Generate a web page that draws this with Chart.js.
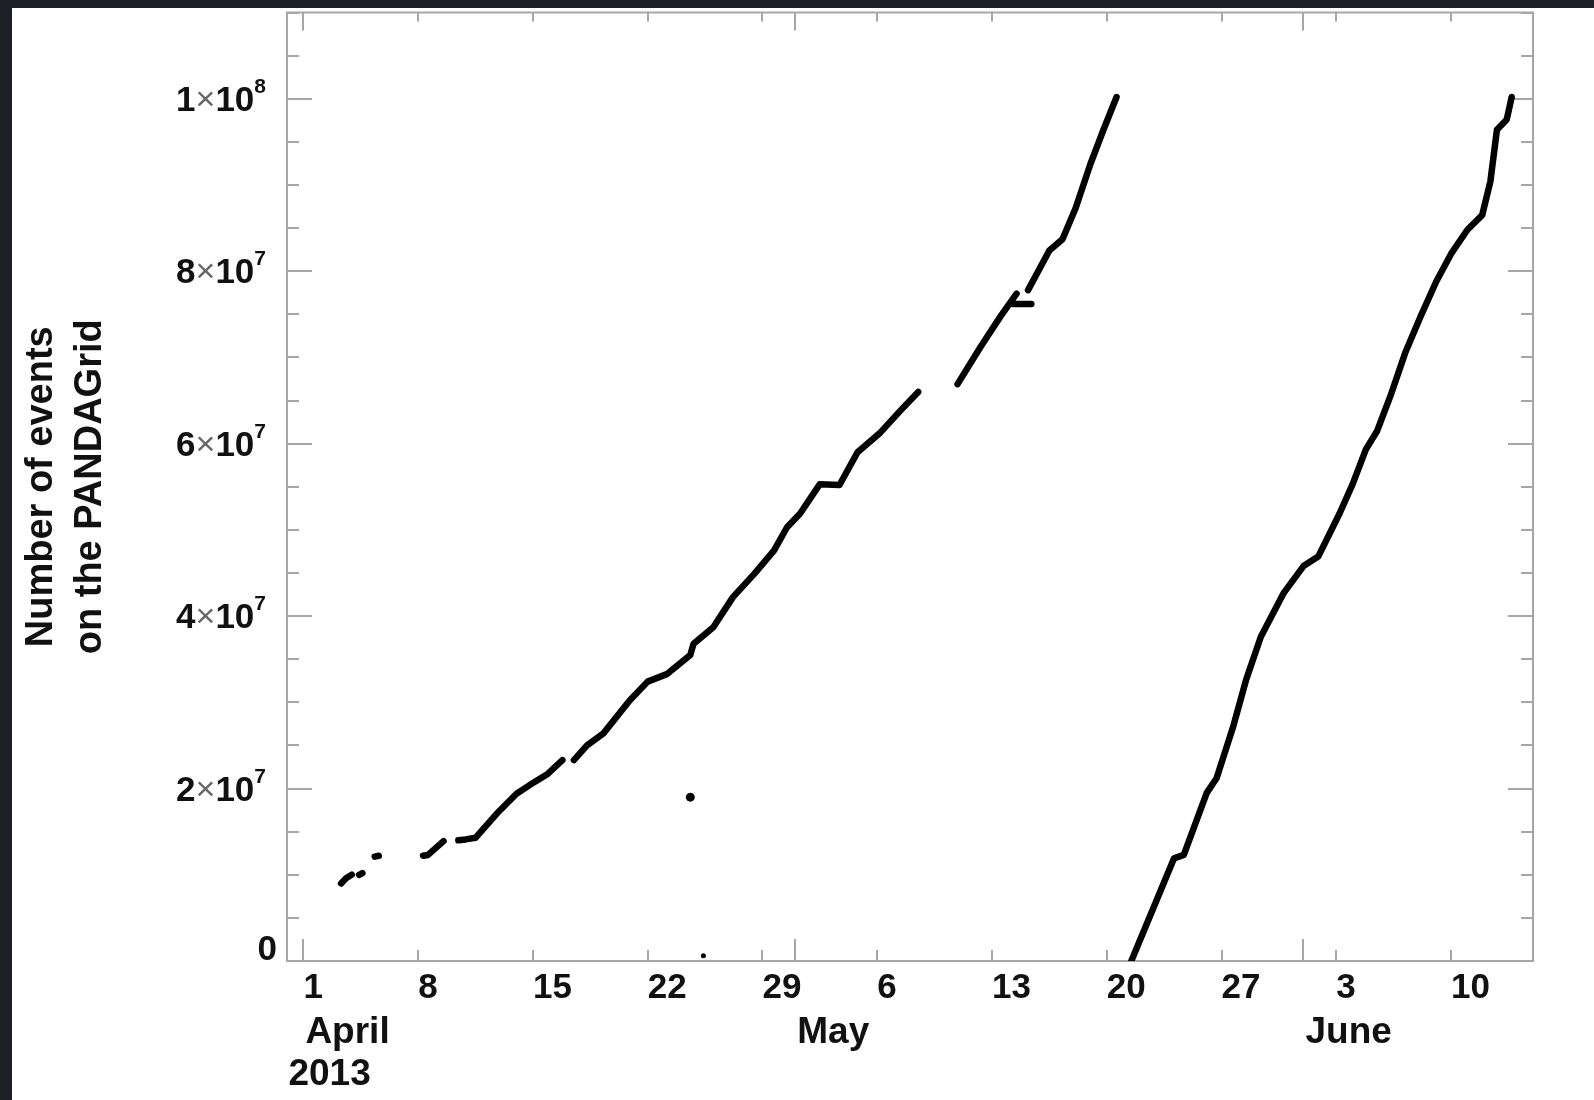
<!DOCTYPE html>
<html>
<head>
<meta charset="utf-8">
<title>Number of events on the PANDAGrid</title>
<script src="https://cdn.jsdelivr.net/npm/chart.js@4.4.1/dist/chart.umd.min.js"></script>
<style>
  html, body { margin: 0; padding: 0; background: #1d2126; overflow: hidden; }
  #panel { position: absolute; left: 12px; top: 8px; width: 1582px; height: 1092px; background: #fff; }
  #chart { display: block; }
</style>
</head>
<body>
<div id="panel"><canvas id="chart" width="1582" height="1092"></canvas></div>
<script>
// x values are days since 1 April 2013 (day 0 = April 1)
// first production run, null marks a break in the trace
const days1 = [2.3, 2.6, 2.95, 3.2, 3.4, 3.6, 4.0, 4.35, 4.6, 6.0, 7.3, 7.6, 8.55, 9.0,
  9.45, 9.9, 10.5, 10.6, 11.8, 13.0, 13.8, 14.9, 15.8, 16.1,
  16.5, 17.3, 18.3, 19.9, 21.0, 22.2, 23.6, 23.8, 25.0, 26.2, 27.5, 28.7, 29.5, 30.3,
  31.5, 32.7, 33.8, 35.2, 36.4, 37.5, 38.7,
  39.9, 41.3, 42.5, 43.5, 43.4, 43.3, 44.4, 44.3,
  44.2, 45.5, 46.3, 47.1, 48.0, 48.8, 49.6];
const events1 = [9.0e6, 9.6e6, 1.0e7, null, 1.0e7, 1.02e7, null, 1.21e7, 1.22e7, null, 1.22e7, 1.23e7, 1.39e7, null,
  1.40e7, 1.41e7, 1.43e7, 1.45e7, 1.71e7, 1.94e7, 2.04e7, 2.17e7, 2.33e7, null,
  2.33e7, 2.50e7, 2.64e7, 3.02e7, 3.24e7, 3.33e7, 3.55e7, 3.68e7, 3.87e7, 4.22e7, 4.49e7, 4.76e7, 5.03e7, 5.19e7,
  5.53e7, 5.52e7, 5.90e7, 6.13e7, 6.38e7, 6.60e7, null,
  6.69e7, 7.12e7, 7.47e7, 7.74e7, null, 7.62e7, 7.62e7, null,
  7.78e7, 8.24e7, 8.37e7, 8.73e7, 9.24e7, 9.64e7, 1.002e8];

// second production run
const days2 = [50.5, 53.1, 53.7, 55.1, 55.7, 56.7, 57.5, 58.4, 59.8, 61.0, 61.9, 63.2, 64.0,
  64.8, 65.5, 66.3, 67.2, 68.2, 69.1, 70.0, 71.0, 71.9, 72.4, 72.8, 73.4, 73.7];
const events2 = [0, 1.19e7, 1.23e7, 1.95e7, 2.12e7, 2.71e7, 3.26e7, 3.76e7, 4.27e7, 4.58e7, 4.69e7, 5.19e7, 5.53e7,
  5.93e7, 6.15e7, 6.55e7, 7.05e7, 7.5e7, 7.88e7, 8.2e7, 8.48e7, 8.65e7, 9.04e7, 9.64e7, 9.76e7, 1.002e8];

// stray single points
const strayDays = [23.6, 24.4];
const strayEvents = [1.9e7, 6e5];

// axis labels
const monthStarts = [0, 30, 61];
const monthNames = ['April', 'May', 'June'];
const yearLabel = '2013';
const monthLengths = [30, 31, 30];

const FONT = '"Liberation Sans", Arial, Helvetica, sans-serif';

function toPoints(xs, ys) {
    return xs.map((x, i) => ({ x: x, y: ys[i] }));
}

// day index -> day of month
function dayOfMonth(d) {
    let rest = d;
    for (let m = 0; m < monthLengths.length; m++) {
        if (rest < monthLengths[m]) return rest + 1;
        rest -= monthLengths[m];
    }
    return rest + 1;
}

function isMajor(v) {
    return Math.round(v / 5e6) % 4 === 0;
}

// frame with inward ticks on all four sides
const frameTicks = {
    id: 'frameTicks',
    beforeDatasetsDraw(chart) {
        const { ctx, chartArea: a, scales: { x, y } } = chart;
        ctx.save();
        ctx.strokeStyle = '#a6a6a6';
        ctx.lineWidth = 2;
        ctx.strokeRect(a.left, a.top, a.right - a.left, a.bottom - a.top);
        ctx.beginPath();
        y.ticks.forEach(t => {
            const py = Math.round(y.getPixelForValue(t.value));
            const len = isMajor(t.value) ? 25 : 12;
            ctx.moveTo(a.left, py); ctx.lineTo(a.left + len, py);
            ctx.moveTo(a.right, py); ctx.lineTo(a.right - len, py);
        });
        x.ticks.forEach(t => {
            const px = Math.round(x.getPixelForValue(t.value));
            ctx.moveTo(px, a.bottom); ctx.lineTo(px, a.bottom - 11);
            ctx.moveTo(px, a.top); ctx.lineTo(px, a.top + 9);
        });
        monthStarts.forEach(d => {
            const px = Math.round(x.getPixelForValue(d));
            ctx.moveTo(px, a.bottom); ctx.lineTo(px, a.bottom - 22);
            ctx.moveTo(px, a.top); ctx.lineTo(px, a.top + 18);
        });
        ctx.stroke();
        ctx.restore();
    },
    afterDraw(chart) {
        const { ctx, chartArea: a, scales: { x, y } } = chart;
        ctx.save();
        ctx.fillStyle = '#111';
        ctx.textBaseline = 'alphabetic';
        ctx.textAlign = 'left';
        const xr = a.left - 21;
        y.ticks.forEach(t => {
            if (!isMajor(t.value)) return;
            const py = y.getPixelForValue(t.value);
            if (t.value === 0) {
                ctx.font = 'bold 35px ' + FONT;
                ctx.textAlign = 'right';
                ctx.fillText('0', a.left - 10, py - 1);
                ctx.textAlign = 'left';
                return;
            }
            const exp = Math.floor(Math.log10(t.value) + 1e-9);
            const mant = Math.round(t.value / Math.pow(10, exp));
            const base = py + 12;
            ctx.font = 'bold 21px ' + FONT;
            const supW = ctx.measureText(String(exp)).width;
            ctx.font = 'bold 35px ' + FONT;
            const tenW = ctx.measureText('10').width;
            const mantW = ctx.measureText(String(mant)).width;
            ctx.font = '34px ' + FONT;
            const timesW = ctx.measureText('\u00d7').width;
            let cx = xr - supW - tenW - timesW - mantW;
            ctx.font = 'bold 35px ' + FONT;
            ctx.fillText(String(mant), cx, base);
            cx += mantW;
            ctx.font = '34px ' + FONT;
            ctx.fillStyle = '#666';
            ctx.fillText('\u00d7', cx, base - 1);
            ctx.fillStyle = '#111';
            cx += timesW;
            ctx.font = 'bold 35px ' + FONT;
            ctx.fillText('10', cx, base);
            cx += tenW;
            ctx.font = 'bold 21px ' + FONT;
            ctx.fillText(String(exp), cx, py - 6);
        });

        // month names under the day numbers
        ctx.font = 'bold 37px ' + FONT;
        ctx.textBaseline = 'middle';
        monthStarts.forEach((d, i) => {
            ctx.fillText(monthNames[i], x.getPixelForValue(d) + 2, a.bottom + 72);
        });
        ctx.fillText(yearLabel, x.getPixelForValue(0) - 15, a.bottom + 114);
        ctx.restore();
    }
};

const ctx = document.getElementById('chart').getContext('2d');
const chart = new Chart(ctx, {
    type: 'line',
    data: {
        datasets: [
            {
                data: toPoints(days1, events1),
                borderColor: '#000',
                borderWidth: 6.5,
                pointRadius: 0,
                spanGaps: false,
                tension: 0,
                borderCapStyle: 'round',
                borderJoinStyle: 'round'
            },
            {
                data: toPoints(days2, events2),
                borderColor: '#000',
                borderWidth: 6.5,
                pointRadius: 0,
                tension: 0,
                borderCapStyle: 'round',
                borderJoinStyle: 'round'
            },
            {
                data: toPoints(strayDays, strayEvents),
                showLine: false,
                pointRadius: [4.5, 2.5],
                pointBackgroundColor: '#000',
                pointBorderWidth: 0
            }
        ]
    },
    options: {
        responsive: false,
        animation: false,
        devicePixelRatio: 1,
        layout: { padding: { top: 4, right: 61, left: 0, bottom: 0 } },
        plugins: {
            legend: { display: false },
            tooltip: { enabled: false }
        },
        scales: {
            x: {
                type: 'linear',
                min: -1,
                max: 75,
                grid: { display: false, drawTicks: false },
                border: { display: false },
                ticks: {
                    stepSize: 7,
                    includeBounds: false,
                    autoSkip: false,
                    maxRotation: 0,
                    align: 'start',
                    padding: 6,
                    color: '#111',
                    font: { family: FONT, size: 35, weight: 'bold' },
                    callback: v => dayOfMonth(v)
                },
                afterFit: s => { s.height = 139; }
            },
            y: {
                min: 0,
                max: 1.1e8,
                grid: { display: false, drawTicks: false },
                border: { display: false },
                ticks: { stepSize: 5e6, display: false },
                title: {
                    display: true,
                    text: ['Number of events', 'on the PANDAGrid'],
                    color: '#111',
                    font: { family: FONT, size: 38, weight: 'bold', lineHeight: 1.29 },
                    padding: { top: 5, bottom: 0 }
                },
                afterFit: s => { s.width = 275; }
            }
        }
    },
    plugins: [frameTicks]
});
</script>
</body>
</html>
